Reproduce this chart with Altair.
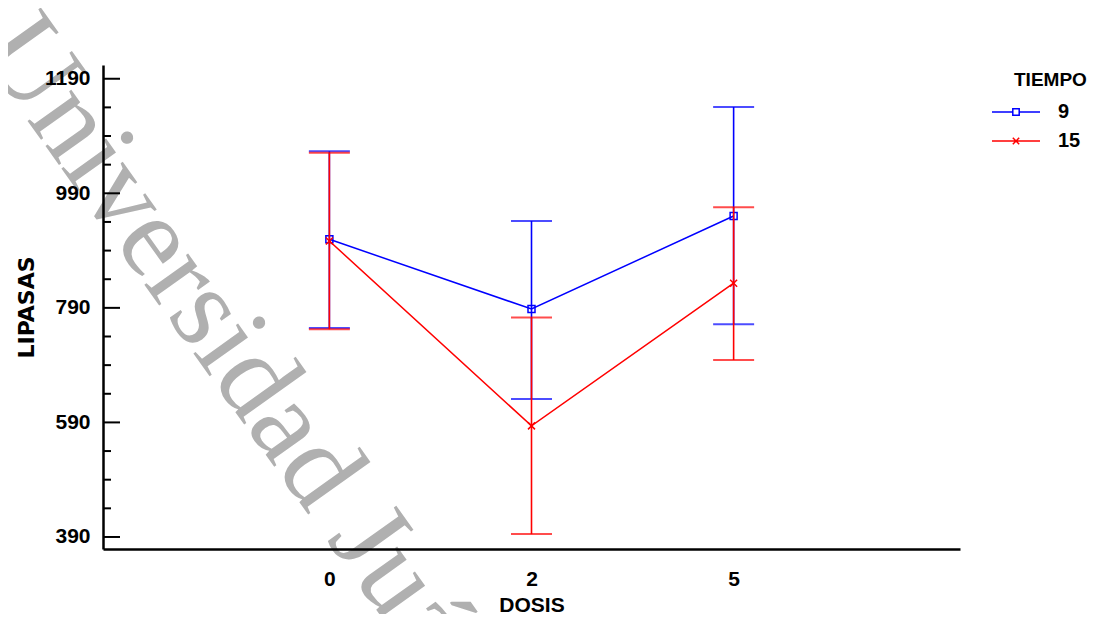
import altair as alt
import pandas as pd

# ---- data ----
dosis = ["0", "2", "5"]
media_9 = [909.7, 788.0, 950.4]
inf_9 = [755.0, 631.0, 761.3]
sup_9 = [1063.3, 941.7, 1140.7]
media_15 = [906.7, 584.0, 833.0]
inf_15 = [752.6, 395.0, 699.0]
sup_15 = [1061.0, 773.0, 965.5]
tiempos = ["9", "15"]
y_major = [390, 590, 790, 990, 1190]
y_minor = [440, 490, 540, 640, 690, 740, 840, 890, 940, 1040, 1090, 1140]
watermark = ["Universidad Juárez Autónoma de Tabasco"]

rows = []
for t, m, lo, hi in [("9", media_9, inf_9, sup_9), ("15", media_15, inf_15, sup_15)]:
    for i, (d, mv, lv, hv) in enumerate(zip(dosis, m, lo, hi)):
        rows.append({"DOSIS": d, "idx": i, "TIEMPO": t, "LIPASAS": mv, "inf": lv, "sup": hv})
df = pd.DataFrame(rows)

BLUE = "#0000ff"
RED = "#ff0000"
FONT = "Liberation Sans"

label_expr = "[" + ",".join("'%s'" % d for d in dosis) + "][datum.value]"

xs = alt.Scale(domain=[-1.12, len(dosis) - 1 + 1.12], nice=False, zero=False)
ys = alt.Scale(domain=[369, 1214], nice=False, zero=False)
cs = alt.Scale(domain=tiempos, range=[BLUE, RED])
shp = alt.Scale(
    domain=tiempos,
    range=[
        "M-12,0H-1.6M1.6,0H12M-1.6,-1.6H1.6V1.6H-1.6Z",
        "M-12,0H12M-1.6,-1.6L1.6,1.6M-1.6,1.6L1.6,-1.6",
    ],
)

xenc = alt.X(
    "idx:Q", scale=xs,
    axis=alt.Axis(title="DOSIS", values=list(range(len(dosis))), labelExpr=label_expr,
                  labelAngle=0, ticks=False, tickSize=0, grid=False,
                  domainColor="black", domainWidth=2.5, labelPadding=19,
                  titleFontSize=21, titlePadding=5, zindex=1),
)
yenc = alt.Y(
    "LIPASAS:Q", scale=ys,
    axis=alt.Axis(title="LIPASAS", values=y_major, format="d", ticks=False, tickSize=0,
                  grid=False, domainColor="black", domainWidth=2.5, labelPadding=13,
                  titleFont="DejaVu Sans", titleFontSize=22, titlePadding=6, zindex=1),
)
xq = alt.X("idx:Q", scale=xs)

base = alt.Chart(df)

wm = alt.Chart(pd.DataFrame({"t": watermark})).mark_text(
    font="Liberation Serif", fontSize=117, color="#b0b0b0", angle=54.5,
    align="left", baseline="alphabetic",
).encode(text="t:N", x=alt.value(-126), y=alt.value(-15))

major = alt.Chart(pd.DataFrame({"v": y_major})).mark_rule(color="black", strokeWidth=2).encode(
    y=alt.Y("v:Q", scale=ys), x=alt.value(0), x2=alt.value(17))
minor = alt.Chart(pd.DataFrame({"v": y_minor})).mark_rule(color="black", strokeWidth=2).encode(
    y=alt.Y("v:Q", scale=ys), x=alt.value(0), x2=alt.value(8))


def series_layers(t, color, shape, first=False):
    b = base.transform_filter(alt.datum.TIEMPO == t)
    line = b.mark_line(strokeWidth=1.5, color=color).encode(
        x=xenc if first else xq, y=yenc if first else alt.Y("LIPASAS:Q", scale=ys))
    bar = b.mark_rule(strokeWidth=1.6, color=color).encode(
        x=xq, y=alt.Y("inf:Q", scale=ys), y2="sup:Q")
    cap_lo = b.mark_tick(orient="horizontal", size=41, thickness=2, color=color).encode(
        x=xq, y=alt.Y("inf:Q", scale=ys))
    cap_hi = b.mark_tick(orient="horizontal", size=41, thickness=2, color=color).encode(
        x=xq, y=alt.Y("sup:Q", scale=ys))
    pts = b.mark_point(filled=False, size=49, strokeWidth=1.5, color=color, shape=shape,
                       opacity=1).encode(x=xq, y=alt.Y("LIPASAS:Q", scale=ys))
    return [line, bar, cap_lo, cap_hi, pts]


leg = alt.Legend(
    title="TIEMPO", orient="none", legendX=911, legendY=6, padding=0,
    titleFont=FONT, titleFontSize=19, titleFontWeight="bold", titleColor="black",
    titlePadding=12, labelFont=FONT, labelFontSize=20, labelFontWeight="bold",
    labelColor="black", labelOffset=32, symbolSize=16, symbolStrokeWidth=1.5,
    symbolOffset=-8, symbolOpacity=1, rowPadding=9,
)
dummy = base.mark_point(filled=False, opacity=0, size=16).encode(
    x=xq, y=alt.Y("LIPASAS:Q", scale=ys),
    color=alt.Color("TIEMPO:N", scale=cs, legend=leg, sort=tiempos),
    shape=alt.Shape("TIEMPO:N", scale=shp, legend=leg, sort=tiempos),
)

layers = [wm, major, minor] + series_layers("9", BLUE, "square", first=True) + \
    series_layers("15", RED, "M-1,-1L1,1M-1,1L1,-1") + [dummy]

chart = alt.layer(*layers).properties(
    width=857, height=484,
    autosize=alt.AutoSizeParams(type="none"),
    padding={"left": 95, "top": 57, "right": 128, "bottom": 65},
    background="white",
).configure_view(stroke=None).configure_axis(
    labelFont=FONT, labelFontSize=21, labelFontWeight="bold", labelColor="black",
    titleFont=FONT, titleFontSize=20, titleFontWeight="bold", titleColor="black",
)

chart.save("out.html", embed_options={"renderer": "svg", "actions": False})
